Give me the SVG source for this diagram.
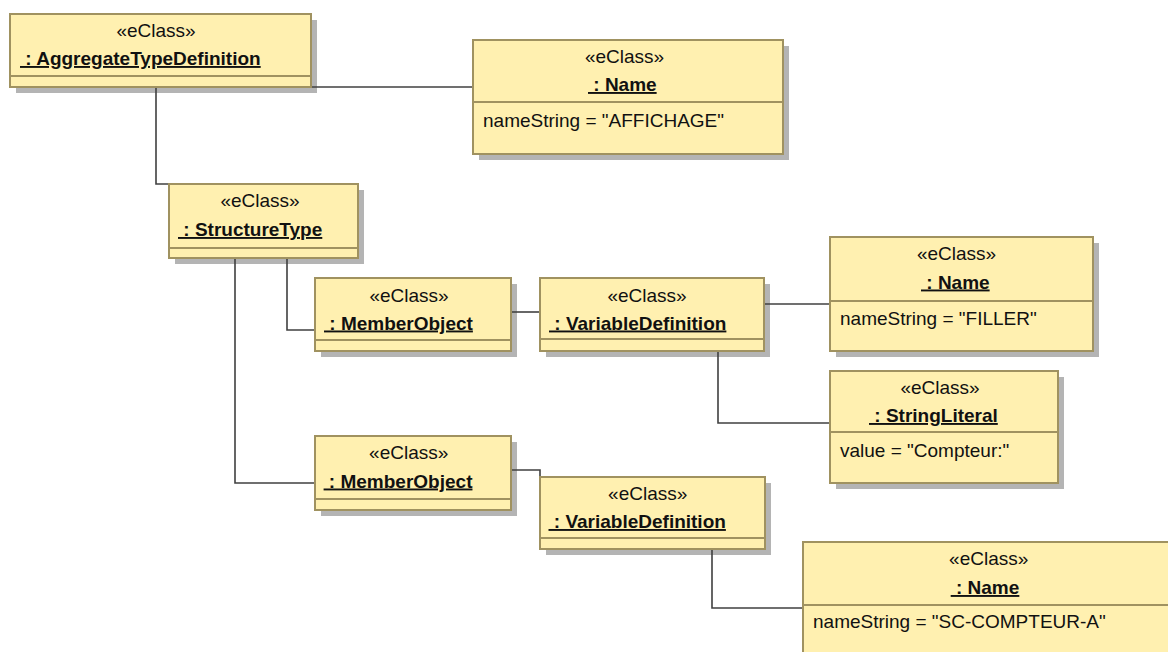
<svg xmlns="http://www.w3.org/2000/svg" width="1168" height="652" viewBox="0 0 1168 652">
<style>
text{font-family:"Liberation Sans",Arial,sans-serif;font-size:19px;fill:#111}
.st{text-anchor:middle}
.nm{font-weight:bold;text-decoration:underline}
.box{fill:#fff0b0;stroke:#a09260;stroke-width:2}
.sh{fill:#b4b4b4}
.dv{stroke:#a09260;stroke-width:2}
.cn{fill:none;stroke:#404040;stroke-width:1.6}
</style>
<rect width="1168" height="652" fill="#fff"/>
<g id="n1">
<rect class="sh" x="16" y="20" width="301" height="73"/>
<rect class="box" x="10" y="14" width="301" height="73"/>
<line class="dv" x1="10" y1="76" x2="311" y2="76"/>
<text class="st" x="156" y="37">«eClass»</text>
<text class="nm" x="20" y="65">&#160;: AggregateTypeDefinition</text>
</g>
<g id="n2">
<rect class="sh" x="479" y="46" width="310" height="114"/>
<rect class="box" x="473" y="40" width="310" height="114"/>
<line class="dv" x1="473" y1="102" x2="783" y2="102"/>
<text class="st" x="624.5" y="63">«eClass»</text>
<text class="nm" x="588" y="91">&#160;: Name</text>
<text x="483" y="127">nameString = "AFFICHAGE"</text>
</g>
<g id="n3">
<rect class="sh" x="175" y="190" width="189" height="74"/>
<rect class="box" x="169" y="184" width="189" height="74"/>
<line class="dv" x1="169" y1="248" x2="358" y2="248"/>
<text class="st" x="260" y="207">«eClass»</text>
<text class="nm" x="178" y="236">&#160;: StructureType</text>
</g>
<g id="n4">
<rect class="sh" x="321" y="284" width="196" height="73"/>
<rect class="box" x="315" y="278" width="196" height="73"/>
<line class="dv" x1="315" y1="340" x2="511" y2="340"/>
<text class="st" x="409" y="301.5">«eClass»</text>
<text class="nm" x="324" y="329.5">&#160;: MemberObject</text>
</g>
<g id="n5">
<rect class="sh" x="546" y="284" width="224" height="73"/>
<rect class="box" x="540" y="278" width="224" height="73"/>
<line class="dv" x1="540" y1="339" x2="764" y2="339"/>
<text class="st" x="647" y="301.5">«eClass»</text>
<text class="nm" x="549" y="329.5">&#160;: VariableDefinition</text>
</g>
<g id="n6">
<rect class="sh" x="836" y="243" width="263" height="114"/>
<rect class="box" x="830" y="237" width="263" height="114"/>
<line class="dv" x1="830" y1="301" x2="1093" y2="301"/>
<text class="st" x="956.5" y="260">«eClass»</text>
<text class="nm" x="921" y="288.5">&#160;: Name</text>
<text x="840" y="325">nameString = "FILLER"</text>
</g>
<g id="n7">
<rect class="sh" x="836" y="377" width="228" height="112"/>
<rect class="box" x="830" y="371" width="228" height="112"/>
<line class="dv" x1="830" y1="432" x2="1058" y2="432"/>
<text class="st" x="940" y="394">«eClass»</text>
<text class="nm" x="869" y="422">&#160;: StringLiteral</text>
<text x="840" y="457">value = "Compteur:"</text>
</g>
<g id="n8">
<rect class="sh" x="321" y="442" width="196" height="74"/>
<rect class="box" x="315" y="436" width="196" height="74"/>
<line class="dv" x1="315" y1="499" x2="511" y2="499"/>
<text class="st" x="408.7" y="459">«eClass»</text>
<text class="nm" x="323.6" y="487.5">&#160;: MemberObject</text>
</g>
<g id="n9">
<rect class="sh" x="546" y="483" width="225" height="72"/>
<rect class="box" x="540" y="477" width="225" height="72"/>
<line class="dv" x1="540" y1="538" x2="765" y2="538"/>
<text class="st" x="647.7" y="500">«eClass»</text>
<text class="nm" x="548.5" y="528">&#160;: VariableDefinition</text>
</g>
<g id="n10">
<rect class="sh" x="809" y="548" width="368" height="114"/>
<rect class="box" x="803" y="542" width="368" height="114"/>
<line class="dv" x1="803" y1="605" x2="1171" y2="605"/>
<text class="st" x="988.7" y="565">«eClass»</text>
<text class="nm" x="950.7" y="594">&#160;: Name</text>
<text x="813" y="628">nameString = "SC-COMPTEUR-A"</text>
</g>
<g id="connectors">
<path class="cn" d="M312,87 H472"/>
<path class="cn" d="M156,88 V184 H168"/>
<path class="cn" d="M287,259 V330 H314"/>
<path class="cn" d="M235,259 V483 H314"/>
<path class="cn" d="M512,312 H539"/>
<path class="cn" d="M765,304 H829"/>
<path class="cn" d="M718,352 V423 H829"/>
<path class="cn" d="M512,470 H540 V476"/>
<path class="cn" d="M712,550 V608 H802"/>
</g>
</svg>
